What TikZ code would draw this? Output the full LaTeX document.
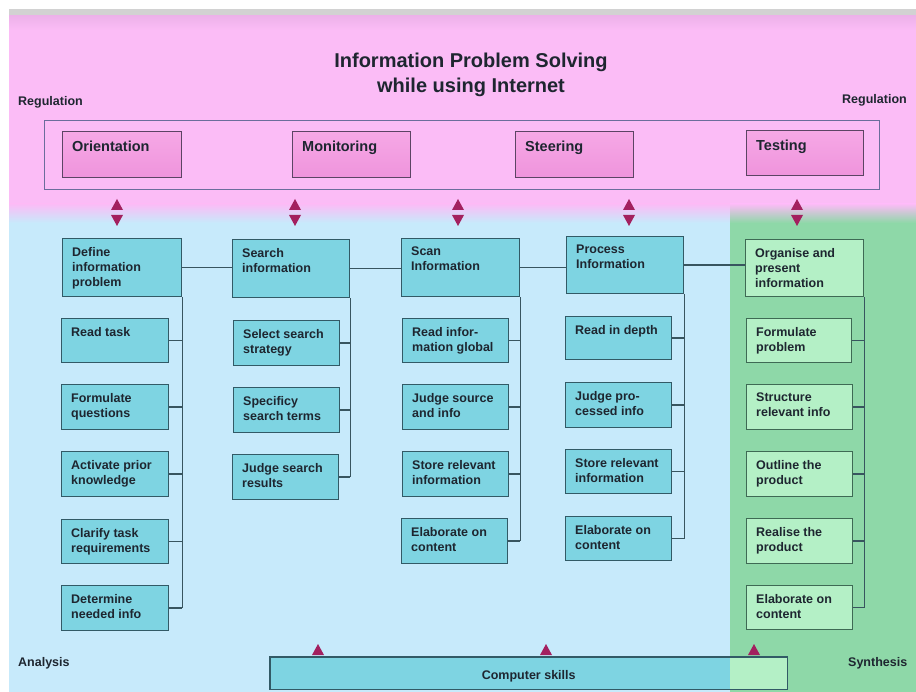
\documentclass[tikz,border=0pt]{standalone}
\usepackage{fontspec}
\setmainfont{Liberation Sans}
\usetikzlibrary{calc}
\definecolor{pinkbg}{HTML}{FBBCF6}
\definecolor{pinktop}{HTML}{EDB2EA}
\definecolor{graystrip}{HTML}{D2D2D2}
\definecolor{bluebg}{HTML}{C7EAFB}
\definecolor{greenbg}{HTML}{8ED8A8}
\definecolor{bfill}{HTML}{7ED4E2}
\definecolor{bborder}{HTML}{325A66}
\definecolor{gfill}{HTML}{B4F0C6}
\definecolor{gborder}{HTML}{3E6A54}
\definecolor{pfilltop}{HTML}{F6A8E6}
\definecolor{pfillbot}{HTML}{EF94DC}
\definecolor{pborder}{HTML}{5C4464}
\definecolor{framecol}{HTML}{6B6D9C}
\definecolor{conncol}{HTML}{38555F}
\definecolor{tricol}{HTML}{A3205F}
\definecolor{txt}{HTML}{1E2630}
\tikzset{
 bbox/.style={draw=bborder, fill=bfill, line width=1.3pt, inner sep=0pt},
 gbox/.style={draw=gborder, fill=gfill, line width=1.3pt, inner sep=0pt},
 pbox/.style={draw=pborder, top color=pfilltop, bottom color=pfillbot, line width=1.3pt, inner sep=0pt},
 lbl/.style={anchor=north west, inner sep=0pt, align=left, text=txt, font=\bfseries\fontsize{12.5}{15}\selectfont},
 hlbl/.style={lbl, font=\bfseries\fontsize{14.5}{17}\selectfont},
 conn/.style={draw=conncol, line width=1.4pt},
 tri/.style={fill=tricol},
}
\newcommand{\cbox}[6][bbox]{%
 \node[#1, minimum width=#4, minimum height=#5, anchor=north west] (#2) at (#3) {};
 \node[lbl] (#2-t) at ([xshift=10pt,yshift=-9pt]#2.north west) {#6};}
\newcommand{\uptri}[2]{\fill[tri] (#1-6,#2+11) -- (#1+6,#2+11) -- (#1,#2) -- cycle;}
\newcommand{\dntri}[2]{\fill[tri] (#1-6,#2) -- (#1+6,#2) -- (#1,#2+11) -- cycle;}
\begin{document}
\begin{tikzpicture}[x=1pt,y=-1pt]
\useasboundingbox (0,0) rectangle (916,692);
% backgrounds
\fill[white] (0,0) rectangle (916,692);
\fill[graystrip] (9,9) rectangle (916,16);
\fill[pinkbg] (9,16) rectangle (916,205);
\shade[top color=pinktop, bottom color=pinkbg] (9,16) rectangle (916,30);
\fill[bluebg] (9,222) rectangle (730,692);
\fill[greenbg] (730,222) rectangle (916,692);
\shade[top color=pinkbg, bottom color=bluebg] (9,204) rectangle (730,223);
\shade[top color=pinkbg, bottom color=greenbg] (730,204) rectangle (916,223);
% title and side labels
\node[align=center, text=txt, font=\bfseries\fontsize{20}{25}\selectfont, inner sep=0pt] (title) at (471,75) {Information Problem Solving\\while using Internet};
\node[lbl, anchor=west] (regl) at (18,102) {Regulation};
\node[lbl, anchor=west] (regr) at (842,100) {Regulation};
\node[lbl, anchor=west] (ana) at (18,663) {Analysis};
\node[lbl, anchor=west] (syn) at (848,663) {Synthesis};
% regulation frame
\node[draw=framecol, line width=1.1pt, minimum width=835, minimum height=69, anchor=north west, inner sep=0pt] (frame) at (44,120) {};
\node[pbox, minimum width=119, minimum height=46, anchor=north west] (ori) at (62,131) {};
\node[hlbl] (ori-t) at ([xshift=10pt,yshift=-10pt]ori.north west) {Orientation};
\node[pbox, minimum width=118, minimum height=46, anchor=north west] (mon) at (292,131) {};
\node[hlbl] (mon-t) at ([xshift=10pt,yshift=-10pt]mon.north west) {Monitoring};
\node[pbox, minimum width=118, minimum height=46, anchor=north west] (ste) at (515,131) {};
\node[hlbl] (ste-t) at ([xshift=10pt,yshift=-10pt]ste.north west) {Steering};
\node[pbox, minimum width=117, minimum height=45, anchor=north west] (tes) at (746,130) {};
\node[hlbl] (tes-t) at ([xshift=10pt,yshift=-10pt]tes.north west) {Testing};
% double arrows
\foreach \x in {117,295,458,629,797} {\uptri{\x}{199}\dntri{\x}{215}}
% column 1
\cbox{def}{62,238}{119}{58}{Define\\information\\problem}
\cbox{rt}{61,318}{107}{44}{Read task}
\cbox{fq}{61,384}{107}{45}{Formulate\\questions}
\cbox{apk}{61,451}{107}{45}{Activate prior\\knowledge}
\cbox{ctr}{61,519}{107}{44}{Clarify task\\requirements}
\cbox{dni}{61,585}{107}{45}{Determine\\needed info}
% column 2
\cbox{srch}{232,239}{117}{58}{Search\\information}
\cbox{sss}{233,320}{106}{45}{Select search\\strategy}
\cbox{sst}{233,387}{106}{45}{Specificy\\search terms}
\cbox{jsr}{232,454}{106}{45}{Judge search\\results}
% column 3
\cbox{scan}{401,238}{118}{58}{Scan\\Information}
\cbox{rig}{402,318}{106}{44}{Read infor-\\mation global}
\cbox{jsi}{402,384}{106}{45}{Judge source\\and info}
\cbox{sri}{402,451}{106}{45}{Store relevant\\information}
\cbox{eoc}{401,518}{106}{45}{Elaborate on\\content}
% column 4
\cbox{proc}{566,236}{117}{57}{Process\\Information}
\cbox{rid}{565,316}{106}{43}{Read in depth}
\cbox{jpi}{565,382}{106}{45}{Judge pro-\\cessed info}
\cbox{srp}{565,449}{106}{44}{Store relevant\\information}
\cbox{eop}{565,516}{106}{44}{Elaborate on\\content}
% column 5
\cbox[gbox]{org}{745,239}{118}{57}{Organise and\\present\\information}
\cbox[gbox]{fp}{746,318}{105}{44}{Formulate\\problem}
\cbox[gbox]{sti}{746,384}{106}{45}{Structure\\relevant info}
\cbox[gbox]{otp}{746,451}{106}{45}{Outline the\\product}
\cbox[gbox]{rtp}{746,518}{106}{45}{Realise the\\product}
\cbox[gbox]{eos}{746,585}{106}{44}{Elaborate on\\content}
% connectors between heads
\draw[conn] (def.east) -- (def.east -| srch.west);
\draw[conn] (srch.east) -- (srch.east -| scan.west);
\draw[conn] (scan.east) -- (scan.east -| proc.west);
\draw[conn] (proc.east) -- (proc.east -| org.west);
% spines and stubs
\draw[conn] (def.south east) -- (def.south east |- dni.east);
\foreach \n in {rt,fq,apk,ctr,dni} \draw[conn] (\n.east) -- (\n.east -| def.south east);
\draw[conn] (srch.south east) -- (srch.south east |- jsr.east);
\foreach \n in {sss,sst,jsr} \draw[conn] (\n.east) -- (\n.east -| srch.south east);
\draw[conn] (scan.south east) -- (scan.south east |- eoc.east);
\foreach \n in {rig,jsi,sri,eoc} \draw[conn] (\n.east) -- (\n.east -| scan.south east);
\draw[conn] (proc.south east) -- (proc.south east |- eop.east);
\foreach \n in {rid,jpi,srp,eop} \draw[conn] (\n.east) -- (\n.east -| proc.south east);
\draw[conn] (org.south east) -- (org.south east |- eos.east);
\foreach \n in {fp,sti,otp,rtp,eos} \draw[conn] (\n.east) -- (\n.east -| org.south east);
% computer skills
\node[fill=bfill, minimum width=517, minimum height=32, anchor=north west, inner sep=0pt] (cs) at (270,657) {};
\coordinate (gx) at (730,657);
\fill[gfill] (gx) rectangle (cs.south east);
\draw[bborder, line width=1.3pt] (cs.north west) rectangle (cs.south east);
\node[lbl, anchor=center] (cs-t) at ([yshift=-3pt]cs.center) {Computer skills};
\foreach \x in {318,546,754} {\uptri{\x}{644}}
\end{tikzpicture}
\end{document}
